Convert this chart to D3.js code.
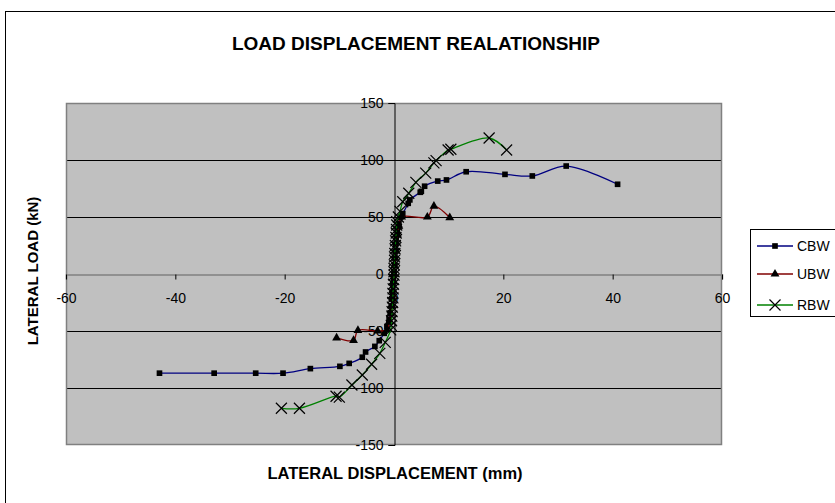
<!DOCTYPE html>
<html>
<head>
<meta charset="utf-8">
<script src="https://cdn.jsdelivr.net/npm/d3@7/dist/d3.min.js"></script>
<style>
  html, body { margin: 0; padding: 0; background: #fff; }
  svg { display: block; }
  text { font-family: "Liberation Sans", Arial, sans-serif; }
</style>
</head>
<body>
<svg id="chart" width="835" height="503"></svg>
<script>
// ---------- DATA ----------
const title = "LOAD DISPLACEMENT REALATIONSHIP";
const xTitle = "LATERAL DISPLACEMENT (mm)";
const yTitle = "LATERAL LOAD (kN)";
const xTicks = [-60, -40, -20, 0, 20, 40, 60];
const yTicks = [-150, -100, -50, 0, 50, 100, 150];
const seriesNames = ["CBW", "UBW", "RBW"];

const cbwX = [-42.9, -32.9, -25.3, -20.3, -15.3, -9.9, -8.2, -5.8, -5.2, -3.5, -2.7, -1.8,
  -1.3, -0.9, -0.7, -0.5, -0.4, -0.3, -0.2, -0.1, 0.0, 0.1, 0.1, 0.2, 0.3, 0.4, 0.6, 0.9, 1.2,
  1.6, 2.6, 2.9, 4.8, 5.0, 5.6, 8.0, 9.6, 13.2, 20.3, 25.3, 31.5, 40.9];
const cbwY = [-87, -87, -87, -87, -83, -81, -78.4, -73, -68.4, -63.5, -58.5, -52,
  -46, -40, -34, -28, -22, -16, -10, -4, 2, 8, 14, 20, 26, 32, 38, 44, 50,
  53, 62, 65, 71.7, 72.5, 77, 81.5, 82.5, 89.7, 87.4, 86, 94.7, 78.7];

const ubwX = [-10.5, -7.4, -6.6, -3.0, -1.3, -0.9, -0.6, -0.4, -0.3, -0.2, -0.1, 0.0,
  0.1, 0.2, 0.3, 0.4, 0.6, 0.9, 1.4, 6.1, 7.3, 10.2];
const ubwY = [-56, -58.2, -49.5, -50, -49, -42, -35, -28, -21, -14, -7, 0,
  7, 14, 21, 28, 35, 42, 50, 50, 59.5, 49.5];

const rbwX = [-20.6, -17.3, -10.6, -10.0, -7.7, -5.8, -4.1, -2.6, -1.6, -0.6, -0.5, -0.45, -0.4,
  -0.35, -0.3, -0.25, -0.2, -0.2, -0.15, -0.1, -0.05, 0.0, 0.0, 0.0, 0.05, 0.1, 0.1, 0.15, 0.2,
  0.25, 0.3, 0.35, 0.4, 0.45, 0.5, 0.5, 0.8, 1.1, 1.6, 2.7, 4.0,
  5.8, 7.3, 7.7, 9.9, 10.4, 17.4, 20.6];
const rbwY = [-117.8, -117.8, -107.2, -108, -97.4, -88.6, -79.2, -69.6, -60, -49, -45, -41, -37,
  -33, -29, -25, -21, -17, -13, -9, -5, -1, 2, 5, 8, 12, 15, 18, 22,
  25, 29, 32, 36, 39, 43, 46, 50, 55, 63.4, 70.8, 80.4,
  88.5, 97.5, 99.5, 108.8, 109.4, 119.3, 108.8];

// ---------- LAYOUT ----------
const svg = d3.select("#chart");
const plot = { left: 66, right: 722, top: 103, bottom: 445 };

const x = d3.scaleLinear().domain([-60, 60]).range([plot.left, plot.right]);
const y = d3.scaleLinear().domain([-150, 150]).range([plot.bottom, plot.top]);

// outer chart border
svg.append("rect")
  .attr("x", 5.5).attr("y", 11.5).attr("width", 840).attr("height", 500)
  .attr("fill", "#fff").attr("stroke", "#000").attr("stroke-width", 1);

// plot area
svg.append("rect")
  .attr("x", plot.left).attr("y", plot.top)
  .attr("width", plot.right - plot.left).attr("height", plot.bottom - plot.top)
  .attr("fill", "#c0c0c0");

// gridlines
svg.append("g").selectAll("line")
  .data(yTicks.filter(d => d !== 0 && d !== 150 && d !== -150))
  .join("line")
  .attr("x1", plot.left).attr("x2", plot.right)
  .attr("y1", d => Math.round(y(d)) + 0.5).attr("y2", d => Math.round(y(d)) + 0.5)
  .attr("stroke", "#000").attr("stroke-width", 1);

// plot border (gray)
svg.append("rect")
  .attr("x", plot.left + 0.5).attr("y", plot.top + 0.5)
  .attr("width", plot.right - plot.left - 1).attr("height", plot.bottom - plot.top - 1)
  .attr("fill", "none").attr("stroke", "#808080").attr("stroke-width", 1.5);

const fmt = d => String(d);

// X axis at y=0
const xAxis = d3.axisBottom(x).tickValues(xTicks).tickSize(5).tickPadding(14).tickFormat(fmt);
const gx = svg.append("g")
  .attr("transform", `translate(0,${Math.round(y(0)) + 0.5})`)
  .call(xAxis);
gx.select(".domain").attr("stroke", "#808080").attr("stroke-width", 1.5);
gx.selectAll(".tick line").attr("stroke", "#000");
gx.selectAll(".tick text")
  .attr("font-size", 14).attr("fill", "#000")
  .attr("font-family", "Liberation Sans, Arial, sans-serif");

// Y axis at x=0
const yAxis = d3.axisLeft(y).tickValues(yTicks).tickSize(6).tickPadding(5).tickFormat(fmt);
const gy = svg.append("g")
  .attr("transform", `translate(${Math.round(x(0)) + 0.5},0)`)
  .call(yAxis);
gy.select(".domain").attr("stroke", "#000").attr("stroke-width", 1);
gy.selectAll(".tick line").attr("stroke", "#000");
gy.selectAll(".tick text")
  .attr("font-size", 14).attr("fill", "#000")
  .attr("font-family", "Liberation Sans, Arial, sans-serif");

// ---------- SERIES ----------
const colors = ["#000080", "#800000", "#008000"];
const seriesData = [
  cbwX.map((v, i) => [v, cbwY[i]]),
  ubwX.map((v, i) => [v, ubwY[i]]),
  rbwX.map((v, i) => [v, rbwY[i]])
];
const line = d3.line().x(d => x(d[0])).y(d => y(d[1])).curve(d3.curveCatmullRom.alpha(0.5));

const squareSym = d3.symbol().type(d3.symbolSquare).size(32);
const triSym = d3.symbol().type(d3.symbolTriangle).size(34);
const crossPath = s => `M${-s},${-s}L${s},${s}M${-s},${s}L${s},${-s}`;

function drawMarker(g, k, px, py) {
  if (k === 0) {
    g.append("path").attr("d", squareSym()).attr("transform", `translate(${px},${py})`).attr("fill", "#000");
  } else if (k === 1) {
    g.append("path").attr("d", triSym()).attr("transform", `translate(${px},${py})`).attr("fill", "#000");
  } else {
    g.append("path").attr("d", crossPath(5.5)).attr("transform", `translate(${px},${py})`)
      .attr("stroke", "#000").attr("stroke-width", 1.2).attr("fill", "none");
  }
}

seriesData.forEach((data, k) => {
  const g = svg.append("g");
  g.append("path").datum(data).attr("d", line)
    .attr("fill", "none").attr("stroke", colors[k]).attr("stroke-width", 1.3);
  data.forEach(d => drawMarker(g, k, x(d[0]), y(d[1])));
});

// ---------- TEXT ----------
svg.append("text")
  .attr("x", 416).attr("y", 50).attr("text-anchor", "middle")
  .attr("font-size", 19).attr("font-weight", "bold").text(title);

svg.append("text")
  .attr("x", 395).attr("y", 479).attr("text-anchor", "middle")
  .attr("font-size", 16.5).attr("font-weight", "bold").text(xTitle);

svg.append("text")
  .attr("transform", "translate(38,271) rotate(-90)").attr("text-anchor", "middle")
  .attr("font-size", 15).attr("font-weight", "bold").text(yTitle);

// ---------- LEGEND ----------
const legend = svg.append("g");
legend.append("rect")
  .attr("x", 750.5).attr("y", 229.5).attr("width", 100).attr("height", 87)
  .attr("fill", "#fff").attr("stroke", "#000").attr("stroke-width", 1);
const legendY = [246, 274, 305];
seriesNames.forEach((name, k) => {
  const ly = legendY[k];
  legend.append("line").attr("x1", 757).attr("x2", 793).attr("y1", ly).attr("y2", ly)
    .attr("stroke", colors[k]).attr("stroke-width", 1.3);
  drawMarker(legend, k, 775, ly);
  legend.append("text").attr("x", 797).attr("y", ly + 5)
    .attr("font-size", 14).attr("fill", "#000").text(name);
});
</script>
</body>
</html>
